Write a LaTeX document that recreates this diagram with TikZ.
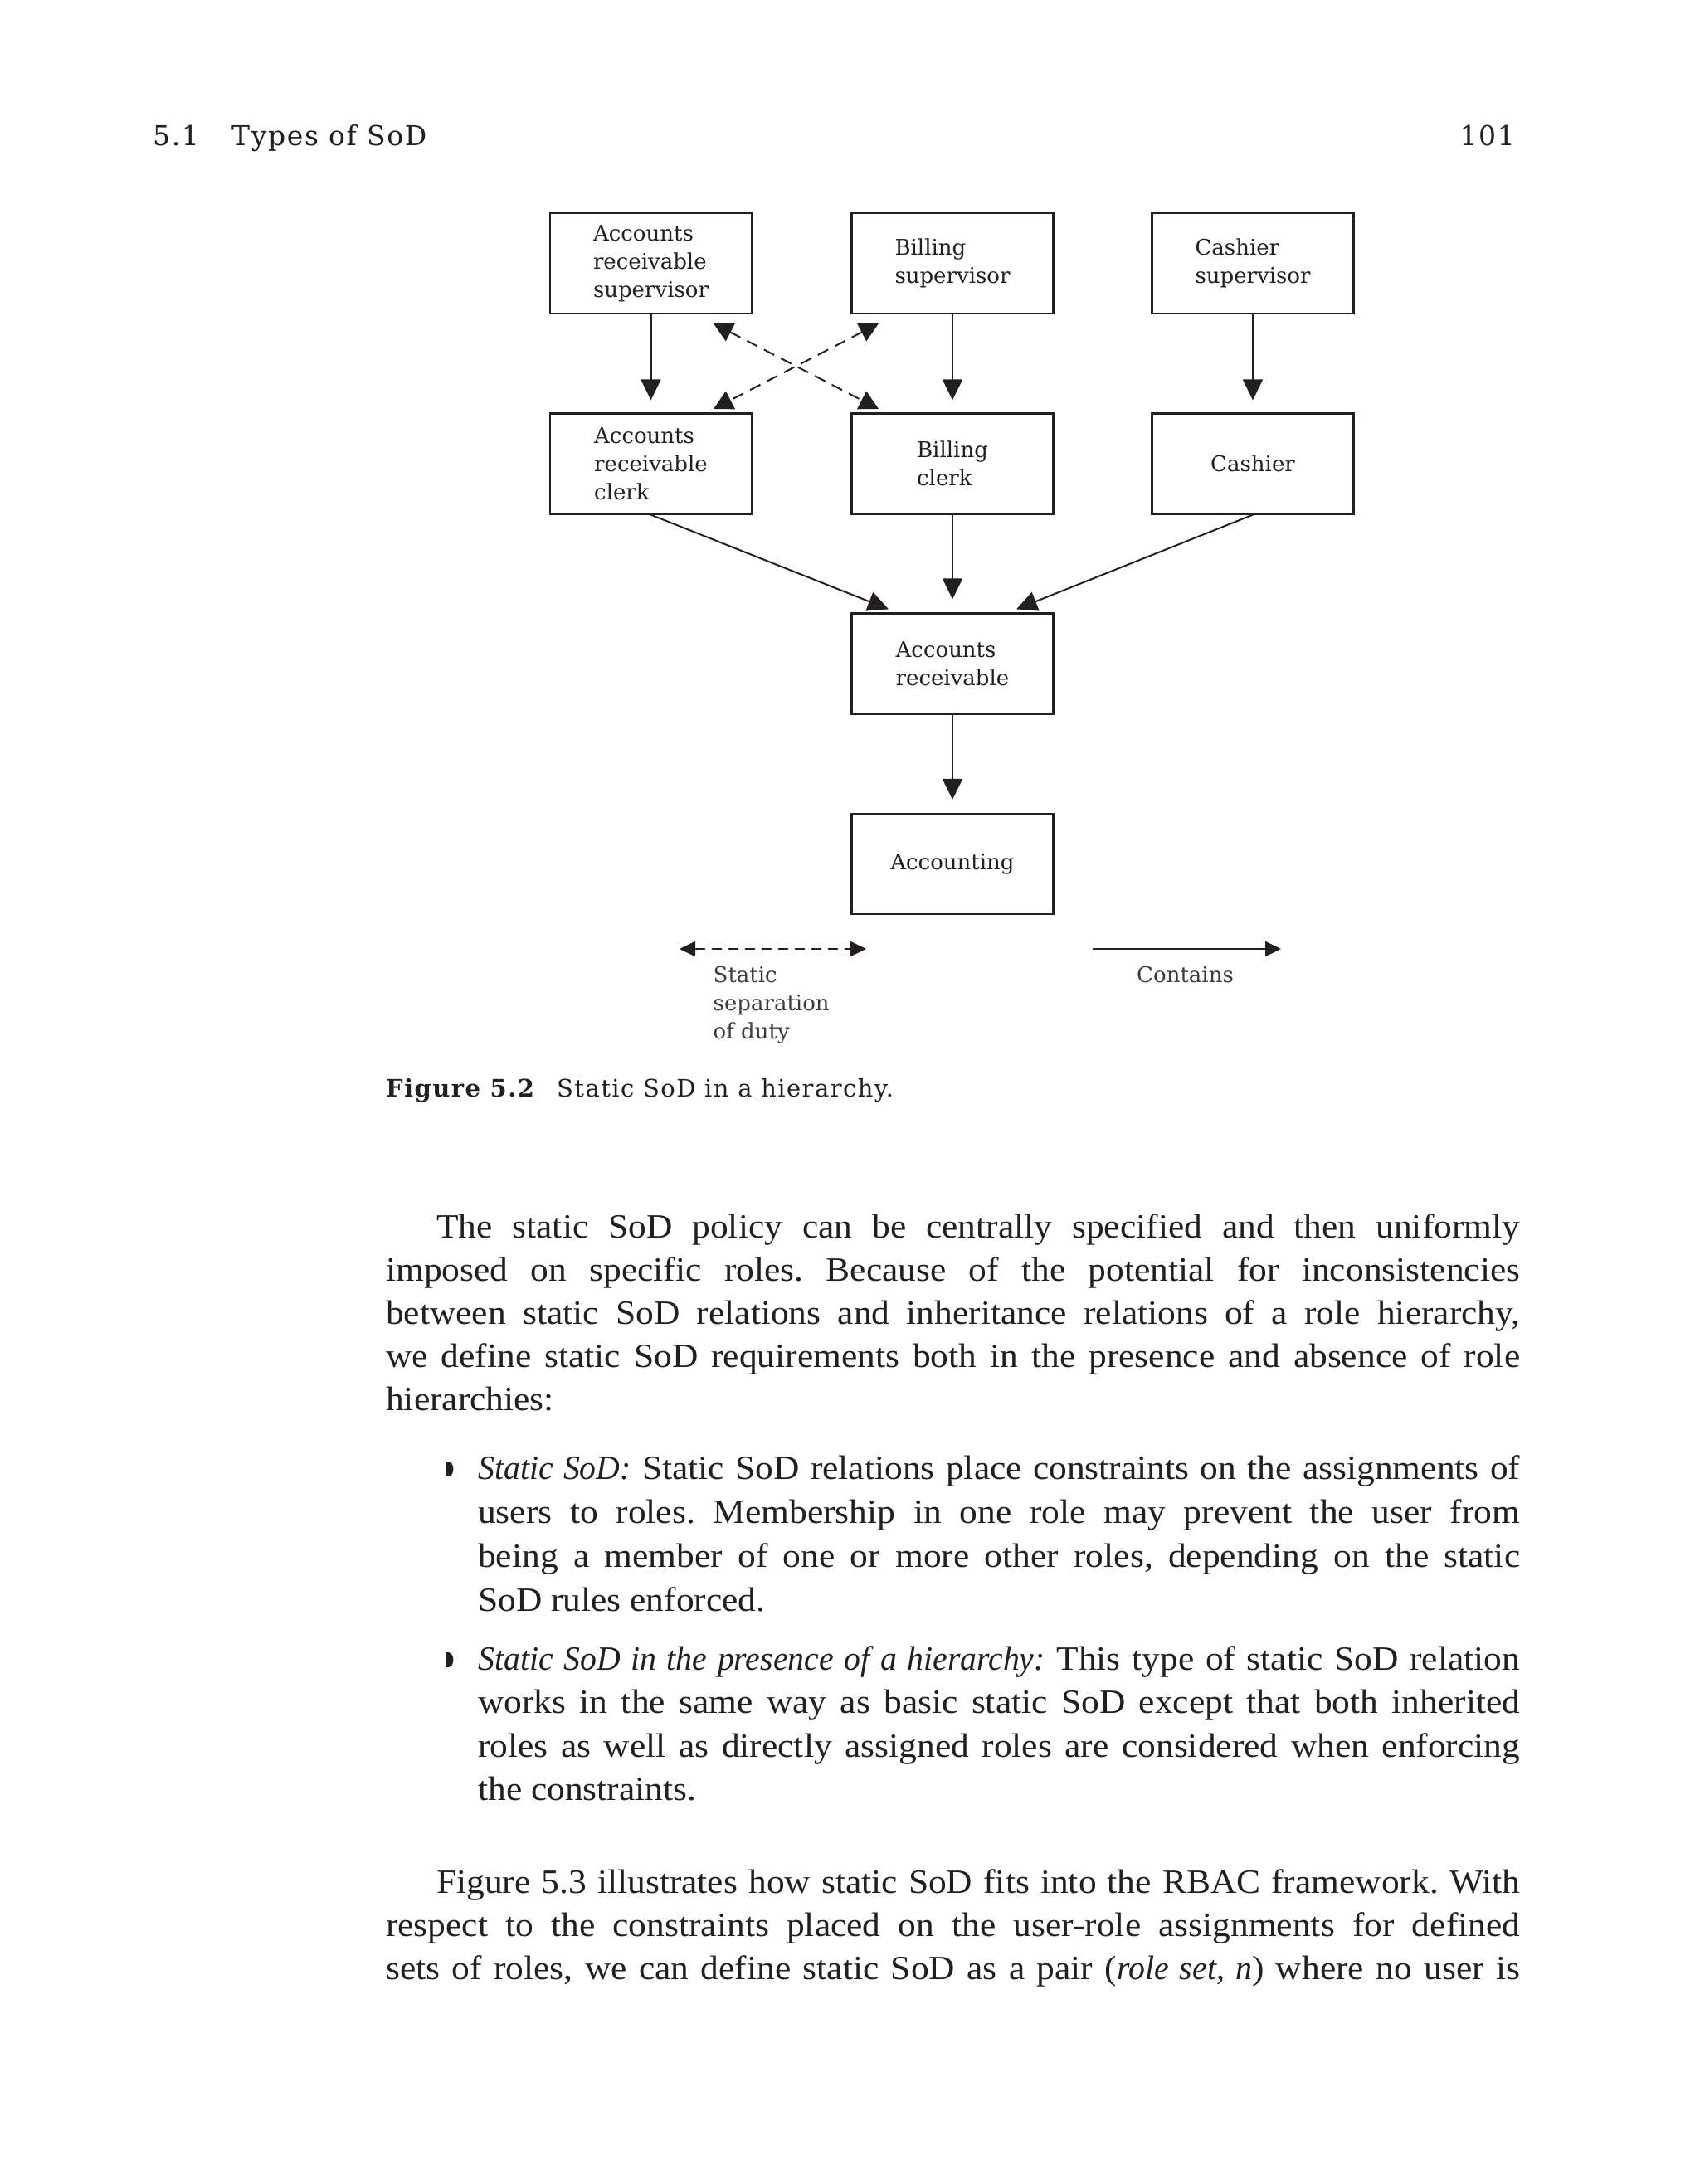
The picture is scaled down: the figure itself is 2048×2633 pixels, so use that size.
\documentclass[tikz,border=0pt]{standalone}
\usepackage{fontspec}
\setmainfont{Liberation Serif}[UprightFeatures={FakeStretch=1.06},ItalicFeatures={FakeStretch=0.97}]
\newfontfamily\slab{DejaVu Serif}
\newfontfamily\slabwide{DejaVu Serif}[LetterSpace=5]
\usetikzlibrary{arrows.meta,calc}
\definecolor{ink}{HTML}{231F20}
\definecolor{legendgray}{HTML}{3C3C3C}
\frenchspacing
\tikzset{
  rolebox/.style={draw=ink, line width=2.2pt, minimum width=243pt, minimum height=121pt,
    inner sep=0pt, align=left, text=ink, font=\slab\fontsize{26}{34}\selectfont},
  containsarrow/.style={draw=ink, line width=2pt, -{Triangle[length=25pt,width=24pt]}},
  sodarrow/.style={draw=ink, line width=2pt, dash pattern=on 14pt off 9pt,
    {Triangle[length=23pt,width=24pt]}-{Triangle[length=23pt,width=24pt]}},
  legcontains/.style={draw=ink, line width=2pt, -{Triangle[length=19pt,width=18pt]}},
  legsod/.style={draw=ink, line width=2pt, dash pattern=on 12pt off 8pt,
    {Triangle[length=19pt,width=18pt]}-{Triangle[length=19pt,width=18pt]}},
  legtext/.style={anchor=north west, inner sep=0pt, align=left, text=legendgray,
    font=\slab\fontsize{26}{34}\selectfont},
  headtext/.style={anchor=base west, inner sep=0pt, text=ink, font=\slabwide\fontsize{33}{40}\selectfont},
  captext/.style={anchor=base west, inner sep=0pt, text=ink, font=\slabwide\fontsize{29}{36}\selectfont},
  bodyline/.style={anchor=base west, inner sep=0pt, text=ink, font=\fontsize{41}{52}\selectfont},
}
\begin{document}
\begin{tikzpicture}[x=1pt,y=-1pt]
\useasboundingbox (0,0) rectangle (2048,2633);
\fill[white] (0,0) rectangle (2048,2633);

% running head
\node[headtext] (hnum) at (184,176) {5.1};
\node[headtext] (htitle) at (279,176) {Types of SoD};
\node[headtext, anchor=base east] (hpage) at (1826,176) {101};

% boxes
\node[rolebox] (arsup) at (784.5,317.5) {Accounts\\receivable\\supervisor};
\node[rolebox] (bsup) at (1148,317.5) {Billing\\supervisor};
\node[rolebox] (csup) at (1510,317.5) {Cashier\\supervisor};
\node[rolebox] (arclerk) at (784.5,559) {Accounts\\receivable\\clerk};
\node[rolebox] (bclerk) at (1148,559) {Billing\\clerk};
\node[rolebox] (cashier) at (1510,559) {Cashier};
\node[rolebox] (ar) at (1148,800) {Accounts\\receivable};
\node[rolebox] (acc) at (1148,1041.5) {Accounting};

% contains arrows
\coordinate (t1) at ($(arclerk.north)+(0,-15)$);
\coordinate (t2) at ($(bclerk.north)+(0,-15)$);
\coordinate (t3) at ($(cashier.north)+(0,-15)$);
\draw[containsarrow] (arsup.south) -- (t1);
\draw[containsarrow] (bsup.south) -- (t2);
\draw[containsarrow] (csup.south) -- (t3);
\coordinate (t4) at ($(ar.north)+(-77,-4)$);
\coordinate (t5) at ($(ar.north)+(0,-16)$);
\coordinate (t6) at ($(ar.north)+(77,-4)$);
\draw[containsarrow] (arclerk.south) -- (t4);
\draw[containsarrow] (bclerk.south) -- (t5);
\draw[containsarrow] (cashier.south) -- (t6);
\coordinate (t7) at ($(acc.north)+(0,-16)$);
\draw[containsarrow] (ar.south) -- (t7);

% static SoD arrows
\coordinate (s1) at (860,390);
\coordinate (s2) at (1059,493);
\coordinate (s3) at (1059,390);
\coordinate (s4) at (860,493);
\draw[sodarrow] (s1) -- (s2);
\draw[sodarrow] (s3) -- (s4);

% legend
\coordinate (l1) at (819,1144);
\coordinate (l2) at (1044,1144);
\coordinate (l3) at (1317,1144);
\coordinate (l4) at (1544,1144);
\draw[legsod] (l1) -- (l2);
\draw[legcontains] (l3) -- (l4);
\node[legtext] (lsod) at (859.5,1165) {Static\\separation\\of duty};
\node[legtext] (lcont) at (1370,1165) {Contains};

% caption
\node[captext] (capa) at (465,1322) {\bfseries Figure 5.2};
\node[captext] (capb) at (671,1322) {Static SoD in a hierarchy.};

% body paragraph 1
\node[bodyline] (p1) at (526,1492) {\makebox[1306pt][s]{The static SoD policy can be centrally specified and then uniformly}};
\node[bodyline] (p2) at (465,1544) {\makebox[1367pt][s]{imposed on specific roles. Because of the potential for inconsistencies}};
\node[bodyline] (p3) at (465,1596) {\makebox[1367pt][s]{between static SoD relations and inheritance relations of a role hierarchy,}};
\node[bodyline] (p4) at (465,1648) {\makebox[1367pt][s]{we define static SoD requirements both in the presence and absence of role}};
\node[bodyline] (p5) at (465,1700) {hierarchies:};

% bullets
\fill[ink] (537,1762) -- (540,1762) .. controls (548.5,1762) and (548.5,1780) .. (540,1780) -- (537,1780) -- cycle;
\node[bodyline] (b1) at (576,1783) {\makebox[1256pt][s]{\textit{Static SoD:} Static SoD relations place constraints on the assignments of}};
\node[bodyline] (b2) at (576,1836) {\makebox[1256pt][s]{users to roles. Membership in one role may prevent the user from}};
\node[bodyline] (b3) at (576,1889) {\makebox[1256pt][s]{being a member of one or more other roles, depending on the static}};
\node[bodyline] (b4) at (576,1942) {SoD rules enforced.};
\fill[ink] (537,1992) -- (540,1992) .. controls (548.5,1992) and (548.5,2010) .. (540,2010) -- (537,2010) -- cycle;
\node[bodyline] (c1) at (576,2013) {\makebox[1256pt][s]{\textit{Static SoD in the presence of a hierarchy:} This type of static SoD relation}};
\node[bodyline] (c2) at (576,2065) {\makebox[1256pt][s]{works in the same way as basic static SoD except that both inherited}};
\node[bodyline] (c3) at (576,2118) {\makebox[1256pt][s]{roles as well as directly assigned roles are considered when enforcing}};
\node[bodyline] (c4) at (576,2170) {the constraints.};

% last paragraph
\node[bodyline] (q1) at (526,2282) {\makebox[1306pt][s]{Figure 5.3 illustrates how static SoD fits into the RBAC framework. With}};
\node[bodyline] (q2) at (465,2334) {\makebox[1367pt][s]{respect to the constraints placed on the user-role assignments for defined}};
\node[bodyline] (q3) at (465,2386) {\makebox[1367pt][s]{sets of roles, we can define static SoD as a pair (\textit{role set, n}) where no user is}};
\end{tikzpicture}
\end{document}
